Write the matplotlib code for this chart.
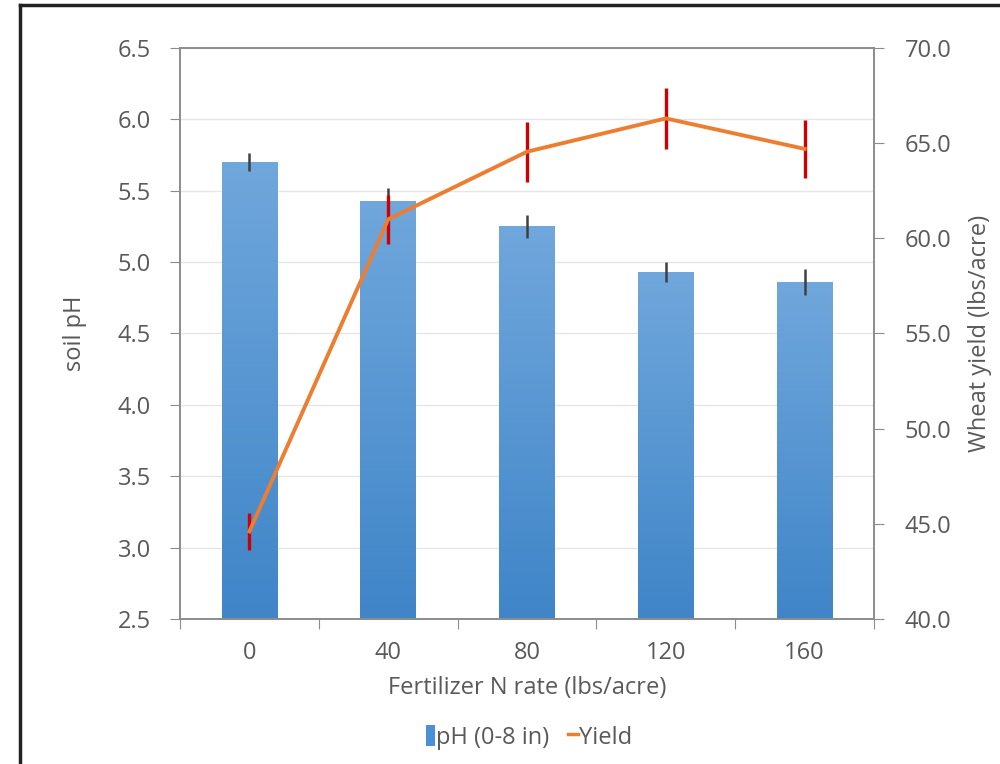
import matplotlib
matplotlib.use("Agg")
import matplotlib.pyplot as plt
import numpy as np
from matplotlib.patches import Patch
from matplotlib.lines import Line2D
from matplotlib.colors import LinearSegmentedColormap

plt.rcParams['font.family'] = ['Open Sans', 'DejaVu Sans']

categories = ["0", "40", "80", "120", "160"]
ph_values = [5.70, 5.43, 5.25, 4.93, 4.86]
ph_errors = [0.065, 0.09, 0.08, 0.07, 0.09]
yield_values = [44.6, 61.0, 64.55, 66.3, 64.7]
yield_errors = [0.96, 1.3, 1.58, 1.62, 1.53]
left_ticks = [2.5, 3.0, 3.5, 4.0, 4.5, 5.0, 5.5, 6.0, 6.5]
right_ticks = [40.0, 45.0, 50.0, 55.0, 60.0, 65.0, 70.0]

TXT = '#595959'
SPINE = '#8c8c8c'
FS = 17

fig = plt.figure(figsize=(10, 7.64), dpi=100)
ax = fig.add_axes([0.18, 0.1898, 0.694, 0.7474])
x = np.arange(len(categories))

bars = ax.bar(x, ph_values, width=0.4, bottom=0, color='#5B9BD5', zorder=2)
ax.set_xlim(-0.5, len(categories) - 0.5)
ax.set_ylim(2.5, 6.5)

cmap = LinearSegmentedColormap.from_list('g', ['#3F85C8', '#70A7DC'])
grad = np.linspace(0, 1, 256).reshape(-1, 1)
for b in bars:
    bx, by = b.get_x(), b.get_y()
    w, h = b.get_width(), b.get_height()
    b.set_facecolor('none')
    b.set_edgecolor('none')
    im = ax.imshow(grad, extent=[bx, bx + w, 2.5, by + h], origin='lower',
                   cmap=cmap, aspect='auto', zorder=2)
    im.set_clip_path(b)
ax.set_xlim(-0.5, len(categories) - 0.5)
ax.set_ylim(2.5, 6.5)

ax.errorbar(x, ph_values, yerr=ph_errors, fmt='none', ecolor='#404040',
            elinewidth=1.8, capsize=0, zorder=3)

ax.set_yticks(left_ticks)
ax.set_yticklabels([f"{t:.1f}" for t in left_ticks])
ax.yaxis.grid(True, color='#e6e6e6', lw=1, zorder=0)
ax.set_axisbelow(True)

ax.set_xticks(np.arange(-0.5, len(categories), 1.0))
ax.set_xticklabels([])
ax.set_xticks(x, minor=True)
ax.set_xticklabels(categories, minor=True)
ax.tick_params(axis='x', which='major', length=7, color=SPINE, direction='out')
ax.tick_params(axis='x', which='minor', length=0, pad=16, labelsize=FS, labelcolor=TXT)
ax.tick_params(axis='y', length=7, color=SPINE, labelsize=FS, labelcolor=TXT, pad=14)
for s in ax.spines.values():
    s.set_color(SPINE)
    s.set_linewidth(1.2)

ax.set_xlabel("Fertilizer N rate (lbs/acre)", fontsize=FS, color=TXT, labelpad=8)
ax.set_ylabel("soil pH", fontsize=FS, color=TXT, labelpad=22)

ax2 = ax.twinx()
ax2.set_ylim(40, 70)
ax2.errorbar(x, yield_values, yerr=yield_errors, fmt='none', ecolor='#D00000',
             elinewidth=2.4, capsize=0, zorder=3)
ax2.plot(x, yield_values, color='#ED7D31', lw=2.8, zorder=4)
ax2.set_yticks(right_ticks)
ax2.set_yticklabels([f"{t:.1f}" for t in right_ticks])
ax2.tick_params(axis='y', length=7, color=SPINE, labelsize=FS, labelcolor=TXT, pad=15)
for s in ax2.spines.values():
    s.set_color(SPINE)
    s.set_linewidth(1.2)
ax2.set_ylabel("Wheat yield (lbs/acre)", fontsize=FS, color=TXT, labelpad=12)

handles = [Patch(facecolor='#4A90D9', edgecolor='none'),
           Line2D([0], [0], color='#ED7D31', lw=2.5)]
fig.legend(handles, ["pH (0-8 in)", "Yield"], loc='center', bbox_to_anchor=(0.529, 0.035),
           ncol=2, frameon=False, fontsize=FS, labelcolor=TXT, handlelength=0.4,
           handleheight=1.0, handletextpad=0.05, columnspacing=0.8)

# outer frame lines (screenshot border)
fig.add_artist(Line2D([0.0195, 0.0195], [0, 0.9935], transform=fig.transFigure,
                      color='#222222', lw=2.5))
fig.add_artist(Line2D([0.0195, 1.0], [0.9935, 0.9935], transform=fig.transFigure,
                      color='#222222', lw=2.5))

fig.savefig("out.png", dpi=100, facecolor='white')
